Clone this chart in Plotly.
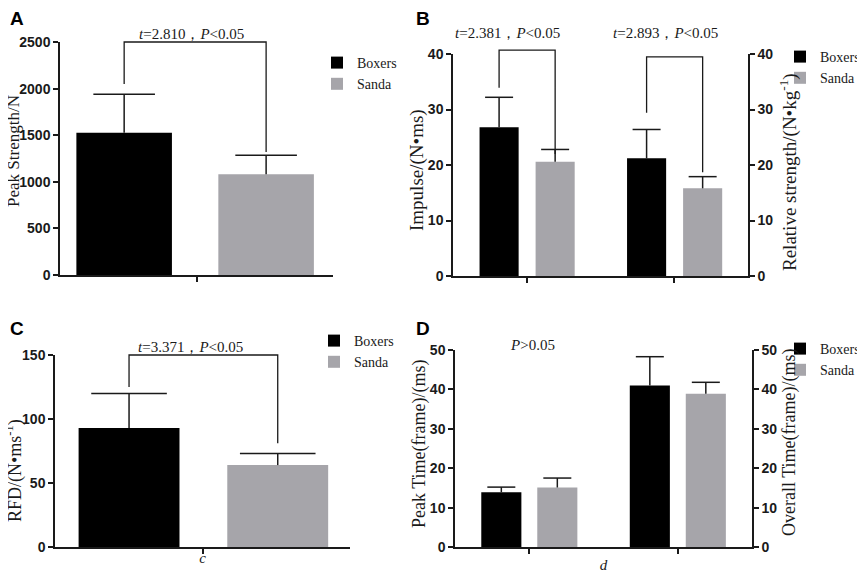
import plotly.graph_objects as go

groups = ["Boxers", "Sanda"]
colors = ["#000000", "#a6a5aa"]

# A: peak strength
a_cats = ["a"]
a_boxers = [1525]
a_boxers_sd = [415]
a_sanda = [1080]
a_sanda_sd = [205]
a_stat = "<i>t</i>=2.810，<i>P</i>&lt;0.05"

# B: impulse (left axis) and relative strength (right axis)
b_cats = ["Impulse", "Relative strength"]
b_boxers = [26.8, 21.2]
b_boxers_sd = [5.4, 5.2]
b_sanda = [20.6, 15.8]
b_sanda_sd = [2.2, 2.1]
b_stats = ["<i>t</i>=2.381，<i>P</i>&lt;0.05", "<i>t</i>=2.893，<i>P</i>&lt;0.05"]

# C: RFD
c_cats = ["c"]
c_boxers = [93]
c_boxers_sd = [27]
c_sanda = [64]
c_sanda_sd = [9]
c_stat = "<i>t</i>=3.371，<i>P</i>&lt;0.05"

# D: peak time (left axis) and overall time (right axis)
d_cats = ["Peak Time", "Overall Time"]
d_boxers = [13.9, 41.0]
d_boxers_sd = [1.3, 7.3]
d_sanda = [15.1, 38.9]
d_sanda_sd = [2.4, 2.9]
d_stat = "<i>P</i>&gt;0.05"

# page body keeps its 8px margin, so the figure is sized to the visible part
PAD = 8
FW, FH = 865 - PAD, 573 - PAD
SERIF = "Liberation Serif"
SANS = "Liberation Sans"
INK = "#1a1a1a"


def px(x):
    return (x - PAD) / FW


def py(y):
    return 1 - (y - PAD) / FH


fig = go.Figure()


def add_bar(name, x, y, sd, xa, ya, off, wid, cap, legend, show):
    i = groups.index(name)
    fig.add_trace(go.Bar(
        x=x, y=y, name=name, xaxis=xa, yaxis=ya,
        offset=off, width=wid,
        marker=dict(color=colors[i], line=dict(width=0)),
        error_y=dict(type="data", array=sd, arrayminus=[0] * len(sd), symmetric=False,
                     color=INK, thickness=1.5, width=0),
        legend=legend, legendgroup=legend + name, showlegend=show,
    ))
    # cap only at the upper end of the error bar
    fig.add_trace(go.Scatter(
        x=[v + off + wid / 2 for v in x], y=[m + s for m, s in zip(y, sd)],
        xaxis=xa, yaxis=ya, mode="markers", showlegend=False, hoverinfo="skip",
        marker=dict(symbol="line-ew", size=cap, line=dict(color=INK, width=1.5)),
    ))


# panel A
add_bar("Boxers", [0], a_boxers, a_boxers_sd, "x", "y", -0.44, 0.35, 44, "legend", True)
add_bar("Sanda", [0], a_sanda, a_sanda_sd, "x", "y", 0.08, 0.35, 44, "legend", True)

# panel B
add_bar("Boxers", [0], b_boxers[:1], b_boxers_sd[:1], "x2", "y2", -0.32, 0.265, 20, "legend2", True)
add_bar("Sanda", [0], b_sanda[:1], b_sanda_sd[:1], "x2", "y2", 0.06, 0.265, 20, "legend2", True)
add_bar("Boxers", [1], b_boxers[1:], b_boxers_sd[1:], "x2", "y3", -0.32, 0.265, 20, "legend2", False)
add_bar("Sanda", [1], b_sanda[1:], b_sanda_sd[1:], "x2", "y3", 0.06, 0.265, 20, "legend2", False)

# panel C
add_bar("Boxers", [0], c_boxers, c_boxers_sd, "x3", "y4", -0.42, 0.342, 54, "legend3", True)
add_bar("Sanda", [0], c_sanda, c_sanda_sd, "x3", "y4", 0.084, 0.342, 54, "legend3", True)

# panel D
add_bar("Boxers", [0], d_boxers[:1], d_boxers_sd[:1], "x4", "y5", -0.323, 0.27, 20, "legend4", True)
add_bar("Sanda", [0], d_sanda[:1], d_sanda_sd[:1], "x4", "y5", 0.054, 0.27, 20, "legend4", True)
add_bar("Boxers", [1], d_boxers[1:], d_boxers_sd[1:], "x4", "y6", -0.323, 0.27, 20, "legend4", False)
add_bar("Sanda", [1], d_sanda[1:], d_sanda_sd[1:], "x4", "y6", 0.054, 0.27, 20, "legend4", False)


def xdom(a, b):
    return [px(a), px(b)]


def ydom(bottom, top):
    return [py(bottom), py(top)]


tickfont = dict(family=SANS, size=14, color=INK, weight="bold")
common = dict(showline=True, linecolor=INK, linewidth=1.5, ticks="outside", ticklen=5,
              tickwidth=1.5, tickcolor=INK, showgrid=False, zeroline=False,
              tickfont=tickfont, fixedrange=True, automargin=False)


def xax(dom, anchor, rng, n, title=None, standoff=0):
    d = dict(common, domain=dom, anchor=anchor, range=rng,
             tickvals=list(range(n)), showticklabels=False)
    if title:
        d["title"] = dict(text="<i>%s</i>" % title, font=dict(family=SERIF, size=15, color=INK),
                          standoff=standoff)
    return d


def yax(dom, anchor, rng, dtick, side="left", overlay=None):
    d = dict(common, domain=dom, anchor=anchor, range=rng, dtick=dtick, side=side)
    if overlay:
        d["overlaying"] = overlay
    return d


a_xr, a_yr = [-0.5, 0.5], [0, 2500]
b_xr, b_yr = [-0.5, 1.5], [0, 40]
c_xr, c_yr = [-0.5, 0.5], [0, 150]
d_xr, d_yr = [-0.5, 1.5], [0, 50]

fig.update_layout(
    xaxis=xax(xdom(60, 333), "y", a_xr, len(a_cats)),
    yaxis=yax(ydom(275, 42), "x", a_yr, 500),
    xaxis2=xax(xdom(453, 748), "y2", b_xr, len(b_cats)),
    yaxis2=yax(ydom(276, 54), "x2", b_yr, 10),
    yaxis3=yax(ydom(276, 54), "x2", b_yr, 10, side="right", overlay="y2"),
    xaxis3=xax(xdom(55, 350), "y4", c_xr, len(c_cats), c_cats[0]),
    yaxis4=yax(ydom(547, 355), "x3", c_yr, 50),
    xaxis4=xax(xdom(455, 752), "y5", d_xr, len(d_cats), "d", standoff=10),
    yaxis5=yax(ydom(547, 350), "x4", d_yr, 10),
    yaxis6=yax(ydom(547, 350), "x4", d_yr, 10, side="right", overlay="y5"),
)

# vertical axis titles
ytitles = [
    ("Peak Strength/N", 13, 151, 17),
    ("Impulse/(N•ms)", 417, 170, 19),
    ("Relative strength/(N•kg<sup>-1</sup>)", 788, 172, 19),
    ("RFD/(N•ms<sup>-1</sup>)", 14, 471, 18),
    ("Peak Time(frame)/(ms)", 419, 444, 18),
    ("Overall Time(frame)/(ms)", 789, 443, 18),
]
for text, tx, ty, size in ytitles:
    fig.add_annotation(x=px(tx), y=py(ty), xref="paper", yref="paper", text=text,
                       textangle=-90, showarrow=False, xanchor="center", yanchor="middle",
                       font=dict(family=SERIF, size=size, color=INK))


# significance brackets, drawn in axis-domain units so they are not clipped
def bracket(xa, ya, xr, yr, x0, x1, y0, top, y1):
    fx = lambda v: (v - xr[0]) / (xr[1] - xr[0])
    fy = lambda v: (v - yr[0]) / (yr[1] - yr[0])
    path = "M%f,%f L%f,%f L%f,%f L%f,%f" % (fx(x0), fy(y0), fx(x0), fy(top),
                                            fx(x1), fy(top), fx(x1), fy(y1))
    fig.add_shape(type="path", path=path, xref=xa + " domain", yref=ya + " domain",
                  line=dict(color=INK, width=1.3))


bracket("x", "y", a_xr, a_yr, -0.44 + 0.175, 0.08 + 0.175, 2050, 2500, 1320)
bracket("x2", "y2", b_xr, b_yr, -0.32 + 0.1325, 0.06 + 0.1325, 33.9, 40.7, 22.0)
bracket("x2", "y2", b_xr, b_yr, 1 - 0.32 + 0.1325, 1 + 0.06 + 0.1325, 29.4, 39.5, 18.7)
bracket("x3", "y4", c_xr, c_yr, -0.42 + 0.171, 0.084 + 0.171, 125, 150, 81)

statfont = dict(family=SERIF, size=15, color=INK)


def stat(text, x, y, xa, ya, yr):
    # y given in data units; placed in domain units so it may sit above the axis top
    fig.add_annotation(x=x, y=(y - yr[0]) / (yr[1] - yr[0]), xref=xa, yref=ya + " domain",
                       text=text, showarrow=False, font=statfont,
                       xanchor="center", yanchor="middle")


stat(a_stat, -0.02, 2585, "x", "y", a_yr)
stat(b_stats[0], -0.13, 43.8, "x2", "y2", b_yr)
stat(b_stats[1], 0.94, 43.8, "x2", "y2", b_yr)
stat(c_stat, -0.04, 156, "x3", "y4", c_yr)
stat(d_stat, 0.02, 51.3, "x4", "y5", d_yr)

letterfont = dict(family=SANS, size=19, color="#000000", weight="bold")
for letter, lx, ly in [("A", 8, 6), ("B", 414, 6), ("C", 8, 316), ("D", 414, 316)]:
    fig.add_annotation(x=px(lx), y=py(ly), xref="paper", yref="paper", text=letter,
                       showarrow=False, xanchor="left", yanchor="top", font=letterfont)

legfont = dict(family=SERIF, size=14, color=INK)


def leg(lx, ly, anchor="left"):
    return dict(x=px(lx), y=py(ly), xanchor=anchor, yanchor="top", font=legfont,
                bgcolor="rgba(0,0,0,0)", itemwidth=30, tracegroupgap=0)


fig.update_layout(
    width=FW, height=FH,
    margin=dict(l=0, r=0, t=0, b=0),
    paper_bgcolor="white", plot_bgcolor="white",
    barmode="overlay",
    showlegend=True,
    legend=leg(317, 47),
    legend2=leg(865, 41, "right"),
    legend3=leg(314, 325),
    legend4=leg(865, 333, "right"),
)

fig.write_html("out.html")
